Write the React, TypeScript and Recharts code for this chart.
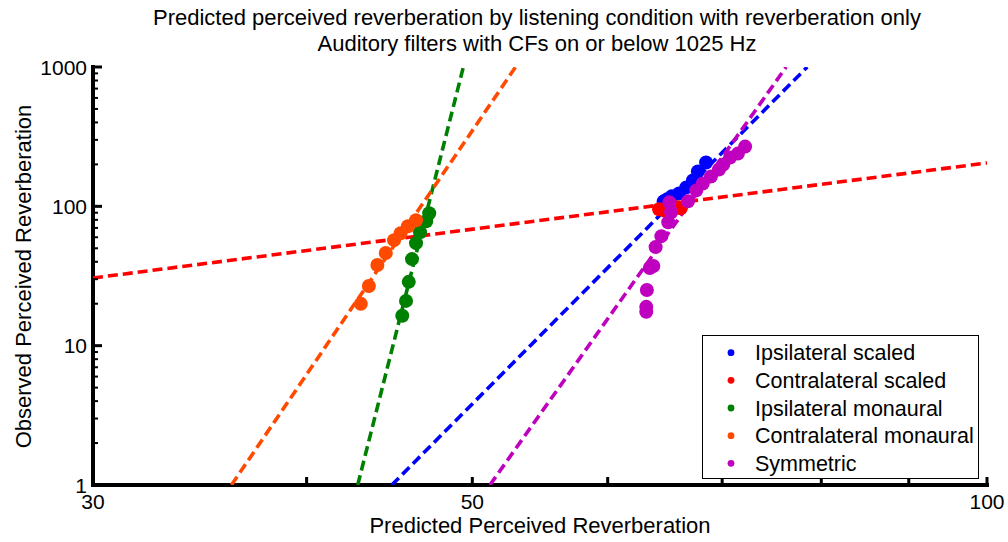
import React from 'react';
import { ScatterChart, Scatter, XAxis, YAxis } from 'recharts';

const FONT = '"Liberation Sans", Arial, Helvetica, sans-serif';

const TITLE_LINES = [
  'Predicted perceived reverberation by listening condition with reverberation only',
  'Auditory filters with CFs on or below 1025 Hz',
];
const X_LABEL = 'Predicted Perceived Reverberation';
const Y_LABEL = 'Observed Perceived Reverberation';

const X_TICKS = [30, 40, 50, 60, 70, 80, 90, 100];
const X_TICK_LABELS = [30, 50, 100];
const Y_TICKS = [
  1, 2, 3, 4, 5, 6, 7, 8, 9, 10, 20, 30, 40, 50, 60, 70, 80, 90, 100,
  200, 300, 400, 500, 600, 700, 800, 900, 1000,
];
const Y_TICK_LABELS = [1, 10, 100, 1000];

const SERIES_NAMES = [
  'Ipsilateral scaled',
  'Contralateral scaled',
  'Ipsilateral monaural',
  'Contralateral monaural',
  'Symmetric',
];
const SERIES_COLORS = ['#0000ff', '#ff0000', '#008000', '#ff4a00', '#bf00bf'];

// Observed points
const ipsiScaledX = [64.7, 65.0, 65.4, 66.05, 66.7, 67.3, 67.75, 68.5];
const ipsiScaledY = [108.6, 112.2, 117.9, 123.8, 136.7, 153.4, 177.8, 206.2];

const contraScaledX = [64.3, 64.7, 65.25, 65.87, 66.2];
const contraScaledY = [95.2, 93.6, 96.8, 98.4, 96.8];

const ipsiMonoX = [45.5, 45.73, 45.9, 46.1, 46.35, 46.6, 46.99, 47.18];
const ipsiMonoY = [16.4, 20.96, 28.7, 41.8, 54.4, 65.2, 78.1, 89.1];

const contraMonoX = [43.03, 43.5, 44.0, 44.5, 45.0, 45.4, 45.85, 46.35];
const contraMonoY = [19.95, 26.8, 37.9, 46.2, 57.2, 64.1, 72.0, 79.4];

const symmetricX = [
  63.2, 63.2, 63.25, 63.5, 63.8, 64.0, 64.5, 65.1, 65.35, 65.2,
  66.85, 67.6, 68.2, 68.95, 69.7, 70.1, 70.75, 71.5, 72.2,
];
const symmetricY = [
  17.5, 19.0, 25.1, 36.1, 37.3, 51.0, 61.1, 76.9, 90.6, 106.8,
  108.6, 130.1, 146.0, 163.8, 183.8, 199.5, 223.9, 239.1, 268.3,
];

// Fitted power-law lines (endpoints)
const ipsiScaledFitX = [44.86, 78.5];
const ipsiScaledFitY = [1, 1000];
const contraScaledFitX = [30, 100];
const contraScaledFitY = [30.6, 204.7];
const ipsiMonoFitX = [42.85, 49.4];
const ipsiMonoFitY = [1, 1000];
const contraMonoFitX = [36.15, 53.0];
const contraMonoFitY = [1, 1000];
const symmetricFitX = [51.2, 76.3];
const symmetricFitY = [1, 1000];

const zip = (xs: number[], ys: number[]) => xs.map((x, i) => ({ x, y: ys[i] }));

const POINTS = [
  zip(ipsiScaledX, ipsiScaledY),
  zip(contraScaledX, contraScaledY),
  zip(ipsiMonoX, ipsiMonoY),
  zip(contraMonoX, contraMonoY),
  zip(symmetricX, symmetricY),
];
const FITS = [
  zip(ipsiScaledFitX, ipsiScaledFitY),
  zip(contraScaledFitX, contraScaledFitY),
  zip(ipsiMonoFitX, ipsiMonoFitY),
  zip(contraMonoFitX, contraMonoFitY),
  zip(symmetricFitX, symmetricFitY),
];

const X_TICK_MARGIN = 10;
const Y_TICK_MARGIN = 6;

const renderXTick = (p: any) => {
  const { x, y, payload } = p;
  const axisY = y - X_TICK_MARGIN;
  const labeled = X_TICK_LABELS.includes(payload.value);
  return (
    <g>
      <line x1={x} x2={x} y1={axisY} y2={axisY - 8} stroke="#000" strokeWidth={3} />
      {labeled && (
        <text x={x} y={axisY + 24} textAnchor="middle" fontSize={21} fontFamily={FONT} fill="#000">
          {payload.value}
        </text>
      )}
    </g>
  );
};

const renderYTick = (p: any) => {
  const { x, y, payload } = p;
  const axisX = x + Y_TICK_MARGIN;
  const major = Y_TICK_LABELS.includes(payload.value);
  return (
    <g>
      <line
        x1={axisX}
        x2={axisX + (major ? 9 : 5)}
        y1={y}
        y2={y}
        stroke="#000"
        strokeWidth={major ? 3 : 2}
      />
      {major && (
        <text x={x} y={y + 7.5} textAnchor="end" fontSize={21} fontFamily={FONT} fill="#000">
          {payload.value}
        </text>
      )}
    </g>
  );
};

const LEGEND_BOX = { x: 702.5, y: 335.5, w: 276, h: 143 };

export default function App() {
  return (
    <div
      style={{
        position: 'absolute',
        left: 0,
        top: 0,
        width: 1008,
        height: 542,
        background: '#fff',
        fontFamily: FONT,
      }}
    >
      <ScatterChart width={1008} height={542} margin={{ top: 67, right: 21, bottom: 17, left: 13 }}>
        <XAxis
          type="number"
          dataKey="x"
          scale="log"
          domain={[30, 100]}
          allowDataOverflow
          ticks={X_TICKS}
          interval={0}
          height={40}
          tickSize={0}
          tickMargin={X_TICK_MARGIN}
          tickLine={false}
          axisLine={{ stroke: '#000', strokeWidth: 4, strokeLinecap: 'square' }}
          tick={renderXTick}
        />
        <YAxis
          type="number"
          dataKey="y"
          scale="log"
          domain={[1, 1000]}
          allowDataOverflow
          ticks={Y_TICKS}
          interval={0}
          width={80}
          tickSize={0}
          tickMargin={Y_TICK_MARGIN}
          tickLine={false}
          axisLine={{ stroke: '#000', strokeWidth: 4, strokeLinecap: 'square' }}
          tick={renderYTick}
        />
        {FITS.map((d, i) => (
          <Scatter
            key={'fit' + i}
            name={SERIES_NAMES[i] + ' fit'}
            data={d}
            line={{ stroke: SERIES_COLORS[i], strokeWidth: 3.6, strokeDasharray: '10 5' }}
            shape={() => <g />}
            isAnimationActive={false}
          />
        ))}
        {POINTS.map((d, i) => (
          <Scatter
            key={'pts' + i}
            name={SERIES_NAMES[i]}
            data={d}
            fill={SERIES_COLORS[i]}
            shape={(p: any) => <circle cx={p.cx} cy={p.cy} r={7} fill={SERIES_COLORS[i]} />}
            isAnimationActive={false}
          />
        ))}
      </ScatterChart>
      <svg
        width={1008}
        height={542}
        style={{ position: 'absolute', left: 0, top: 0, pointerEvents: 'none' }}
        fontFamily={FONT}
      >
        <text x={537} y={25} textAnchor="middle" fontSize={22} fill="#000">
          {TITLE_LINES[0]}
        </text>
        <text x={537} y={50.7} textAnchor="middle" fontSize={22} fill="#000">
          {TITLE_LINES[1]}
        </text>
        <text x={540} y={533} textAnchor="middle" fontSize={22} fill="#000">
          {X_LABEL}
        </text>
        <text
          x={0}
          y={0}
          textAnchor="middle"
          fontSize={22}
          fill="#000"
          transform="translate(31,276.5) rotate(-90)"
        >
          {Y_LABEL}
        </text>
        <rect
          x={LEGEND_BOX.x}
          y={LEGEND_BOX.y}
          width={LEGEND_BOX.w}
          height={LEGEND_BOX.h}
          fill="#fff"
          stroke="#000"
          strokeWidth={1}
        />
        {SERIES_NAMES.map((name, i) => {
          const cy = 352.7 + i * 27.65;
          return (
            <g key={name}>
              <circle cx={731} cy={cy} r={3.4} fill={SERIES_COLORS[i]} />
              <text x={755} y={cy + 7.5} fontSize={21.5} fill="#000">
                {name}
              </text>
            </g>
          );
        })}
      </svg>
    </div>
  );
}
